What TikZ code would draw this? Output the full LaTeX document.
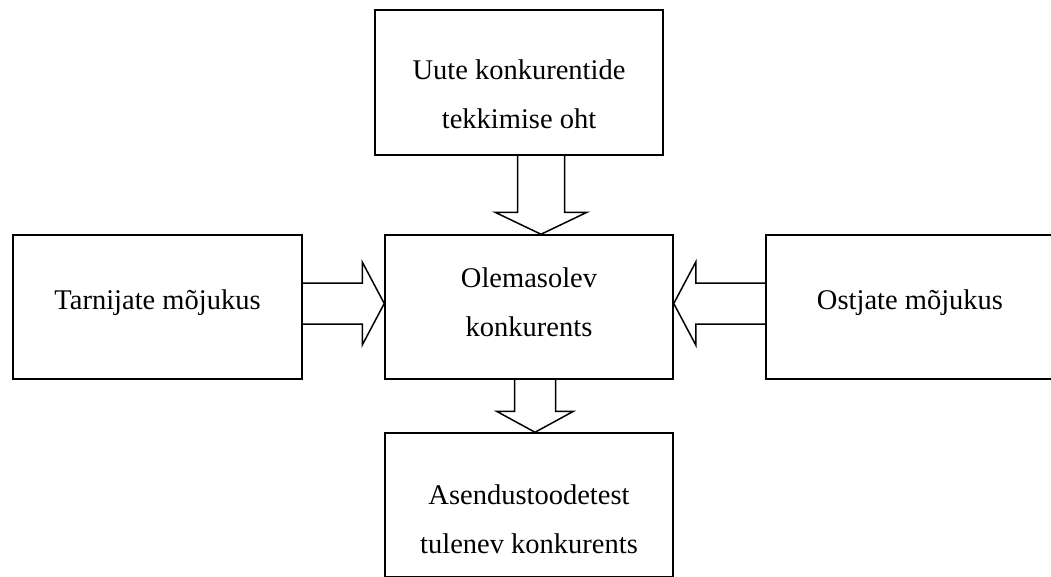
\documentclass[tikz,border=0pt]{standalone}
\usepackage{fontspec}
\setmainfont{Liberation Serif}
\usetikzlibrary{calc}

% looks of boxes, texts and block arrows
\tikzset{
  kast/.style={draw, line width=1.5pt, minimum width=288pt, minimum height=144pt, inner sep=0pt},
  tekst/.style={font=\fontsize{28.5}{49}\selectfont, align=center, inner sep=0pt},
  plokk/.style={draw, line width=1.5pt, line join=miter}
}

% block arrow: #1 start, #2 tip, #3 half shaft, #4 half head, #5 head length
\newcommand{\plokknool}[5]{%
  \coordinate (nh) at ($(#2)!#5!(#1)$);
  \draw[plokk] ($(#1)!#3!90:(#2)$) -- ($(nh)!#3!90:(#2)$) -- ($(nh)!#4!90:(#2)$) -- (#2)
    -- ($(nh)!#4!-90:(#2)$) -- ($(nh)!#3!-90:(#2)$) -- ($(#1)!#3!-90:(#2)$);
}

\begin{document}
\begin{tikzpicture}[x=1pt, y=-1pt]
                \useasboundingbox (0,0) rectangle (1051,576);
                % Draw the five boxes
                \node[kast, minimum height=145pt] (uued) at (519,82.5) {};
                \node[kast] (kesk) at (529,307) {};
                \node[kast, minimum width=289pt] (tarn) at (157.5,307) {};
                \node[kast] (ost) at (910,307) {};
                \node[kast] (asend) at (529,505) {};

                % Write the texts
                \node[tekst] (uuedT) at (519,94) {Uute konkurentide\\tekkimise oht};
                \node[tekst] (keskT) at (529,302) {Olemasolev\\konkurents};
                \node[tekst] (tarnT) at (157.5,303) {Tarnijate mõjukus};
                \node[tekst] (ostT) at (910,303) {Ostjate mõjukus};
                \node[tekst] (asendT) at (529,519) {Asendustoodetest\\tulenev konkurents};

                % Start and tip points of the block arrows
                \coordinate (ylaA) at ($(uued.south)+(22,0)$);
                \coordinate (ylaB) at (ylaA |- kesk.north);
                \coordinate (vasA) at ($(tarn.east)+(0,-3.5)$);
                \coordinate (vasB) at (vasA -| kesk.west);
                \coordinate (parA) at ($(ost.west)+(0,-3.5)$);
                \coordinate (parB) at (parA -| kesk.east);
                \coordinate (allA) at ($(kesk.south)+(6,0)$);
                \coordinate (allB) at (allA |- asend.north);

                % Draw the block arrows
                \plokknool{ylaA}{ylaB}{23.5pt}{46pt}{22pt}
                \plokknool{vasA}{vasB}{20.5pt}{41.5pt}{22pt}
                \plokknool{parA}{parB}{20.5pt}{41.5pt}{22pt}
                \plokknool{allA}{allB}{20.5pt}{38.5pt}{21pt}
        \end{tikzpicture}
\end{document}
